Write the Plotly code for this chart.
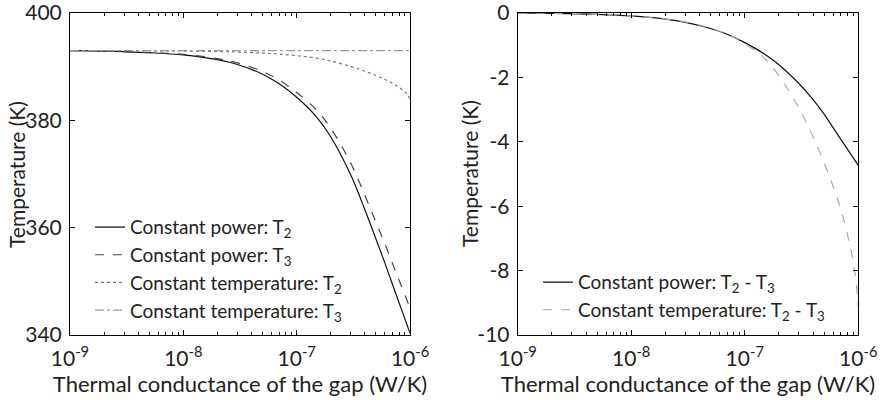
import plotly.graph_objects as go

# Thermal conductance of the gap (W/K)
G = [1e-9, 2e-9, 5e-9, 1e-8, 2e-8, 3e-8, 5e-8, 7e-8, 1e-7, 1.5e-7, 2e-7,
     3e-7, 4e-7, 5e-7, 6e-7, 7e-7, 8e-7, 9e-7, 9.5e-7, 1e-6]

# Left panel: temperatures (K)
cp_T2 = [393.0, 392.9, 392.6, 392.2, 391.3, 390.4, 388.6, 386.8, 384.3, 380.6, 376.9,
         369.8, 363.3, 357.9, 353.4, 349.4, 346.0, 343.0, 341.6, 340.3]
cp_T3 = [393.0, 392.9, 392.6, 392.3, 391.5, 390.7, 389.1, 387.5, 385.2, 381.9, 378.5,
         372.0, 366.0, 361.0, 357.0, 353.3, 350.2, 347.5, 346.2, 345.0]
ct_T2 = [393.0, 392.99, 392.96, 392.91, 392.81, 392.72, 392.53, 392.34, 392.05, 391.58, 391.05,
         390.05, 389.15, 388.35, 387.62, 386.92, 386.15, 385.3, 384.75, 383.9]
ct_T3 = [393.0] * 20

# Right panel: T2 - T3 (K)
cp_diff = [0.0, -0.01, -0.04, -0.09, -0.19, -0.29, -0.48, -0.66, -0.92, -1.28, -1.605,
           -2.19, -2.69, -3.14, -3.56, -3.915, -4.22, -4.49, -4.615, -4.735]
ct_diff = [0.0, -0.01, -0.04, -0.09, -0.19, -0.28, -0.47, -0.66, -0.95, -1.42, -1.95,
           -2.95, -3.85, -4.65, -5.38, -6.08, -6.85, -7.70, -8.25, -9.10]

x_tickvals = [1e-9, 1e-8, 1e-7, 1e-6]
x_ticktext = ["10<sup>-9</sup>", "10<sup>-8</sup>", "10<sup>-7</sup>", "10<sup>-6</sup>"]
yl_ticks = [340, 360, 380, 400]
yr_ticks = [-10, -8, -6, -4, -2, 0]
y_title = "Temperature (K)"
x_title = "Thermal conductance of the gap (W/K)"

FONT = "Lato, Open Sans, sans-serif"

fig = go.Figure()

left = [
    ("Constant power: T<sub>2</sub>", cp_T2, "#111111", "solid"),
    ("Constant power: T<sub>3</sub>", cp_T3, "#444444", "dash"),
    ("Constant temperature: T<sub>2</sub>", ct_T2, "#777777", "dot"),
    ("Constant temperature: T<sub>3</sub>", ct_T3, "#999999", "dashdot"),
]
for i, (name, y, c, d) in enumerate(left):
    fig.add_trace(go.Scatter(x=G, y=y, mode="lines", name=name, legendgroup=f"l{i}",
                             line=dict(color=c, dash=d, width=1.2, shape="spline"),
                             xaxis="x", yaxis="y", legend="legend"))

right = [
    ("Constant power: T<sub>2</sub> - T<sub>3</sub>", cp_diff, "#111111", "solid"),
    ("Constant temperature: T<sub>2</sub> - T<sub>3</sub>", ct_diff, "#aaaaaa", "dash"),
]
for i, (name, y, c, d) in enumerate(right):
    fig.add_trace(go.Scatter(x=G, y=y, mode="lines", name=name, legendgroup=f"r{i}",
                             line=dict(color=c, dash=d, width=1.2, shape="spline"),
                             xaxis="x2", yaxis="y2", legend="legend2"))

xcommon = dict(type="log", range=[-9, -6], tickmode="array", tickvals=x_tickvals,
               ticktext=x_ticktext, ticks="inside", ticklen=5, tickcolor="black",
               showline=True, linecolor="black", linewidth=1, mirror="ticks",
               showgrid=False, zeroline=False, ticklabelstandoff=5, automargin=False,
               ticklabeloverflow="allow",
               minor=dict(dtick="D1", ticks="inside", ticklen=3, tickcolor="black", showgrid=False),
               tickfont=dict(size=21, color="#222"),
               title=dict(text=x_title, font=dict(size=22, color="#222"), standoff=7))
ycommon = dict(ticks="inside", ticklen=5, tickcolor="black", showline=True, linecolor="black",
               linewidth=1, mirror="ticks", showgrid=False, zeroline=False, ticklabelstandoff=3,
               automargin=False, ticklabeloverflow="allow", tickfont=dict(size=21, color="#222"))

ydom = [0.1625, 0.9675]
fig.update_layout(
    width=880, height=400,
    margin=dict(l=0, r=0, t=0, b=0, autoexpand=False),
    paper_bgcolor="white", plot_bgcolor="white",
    font=dict(family=FONT, color="#222"),
    showlegend=True,
    xaxis=dict(domain=[0.0795, 0.466], anchor="y", **xcommon),
    yaxis=dict(domain=ydom, anchor="x", range=[340, 400], tickmode="array",
               tickvals=yl_ticks, ticktext=[str(v) for v in yl_ticks], **ycommon),
    xaxis2=dict(domain=[0.5883, 0.9753], anchor="y2", **xcommon),
    yaxis2=dict(domain=ydom, anchor="x2", range=[-10, 0], tickmode="array",
                tickvals=yr_ticks, ticktext=[str(v) for v in yr_ticks], **ycommon),
    legend=dict(x=0.1023, y=0.4795, xanchor="left", yanchor="top", bgcolor="rgba(0,0,0,0)",
                font=dict(size=19, color="#222"), tracegroupgap=0),
    legend2=dict(x=0.6114, y=0.342, xanchor="left", yanchor="top", bgcolor="rgba(0,0,0,0)",
                 font=dict(size=19, color="#222"), tracegroupgap=0),
    annotations=[
        dict(text=y_title, xref="paper", yref="paper", x=0.0193, y=sum(ydom) / 2,
             xanchor="center", yanchor="middle", textangle=-90, showarrow=False,
             font=dict(size=21, color="#222")),
        dict(text=y_title, xref="paper", yref="paper", x=0.5341, y=sum(ydom) / 2,
             xanchor="center", yanchor="middle", textangle=-90, showarrow=False,
             font=dict(size=21, color="#222")),
    ],
)

fig.write_html("out.html")
